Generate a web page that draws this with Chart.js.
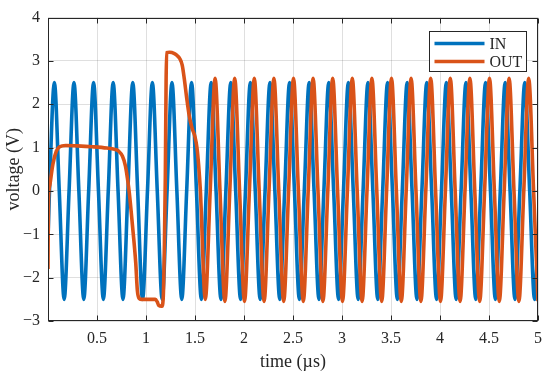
<!DOCTYPE html>
<html>
<head>
<meta charset="utf-8">
<script src="https://cdn.jsdelivr.net/npm/chart.js@4.4.1/dist/chart.umd.min.js"></script>
<style>
  body { margin: 0; background: #fff; }
</style>
</head>
<body>
<canvas id="grafico" width="550" height="373"></canvas>
<script>
// sinal de entrada (IN): cruzamentos, picos e vales
const inTime = [
  0,
  0.015, 0.065, 0.115, 0.165,
  0.215, 0.265, 0.315, 0.365,
  0.415, 0.465, 0.515, 0.565,
  0.615, 0.665, 0.715, 0.765,
  0.815, 0.865, 0.915, 0.965,
  1.015, 1.065, 1.115, 1.165,
  1.215, 1.265, 1.315, 1.365,
  1.415, 1.465, 1.515, 1.565,
  1.615, 1.665, 1.715, 1.765,
  1.815, 1.865, 1.915, 1.965,
  2.015, 2.065, 2.115, 2.165,
  2.215, 2.265, 2.315, 2.365,
  2.415, 2.465, 2.515, 2.565,
  2.615, 2.665, 2.715, 2.765,
  2.815, 2.865, 2.915, 2.965,
  3.015, 3.065, 3.115, 3.165,
  3.215, 3.265, 3.315, 3.365,
  3.415, 3.465, 3.515, 3.565,
  3.615, 3.665, 3.715, 3.765,
  3.815, 3.865, 3.915, 3.965,
  4.015, 4.065, 4.115, 4.165,
  4.215, 4.265, 4.315, 4.365,
  4.415, 4.465, 4.515, 4.565,
  4.615, 4.665, 4.715, 4.765,
  4.815, 4.865, 4.915, 4.965,
  5
];
const inVolt = [
  -1.1,
  0, 2.5, 0, -2.5,
  0, 2.5, 0, -2.5,
  0, 2.5, 0, -2.5,
  0, 2.5, 0, -2.5,
  0, 2.5, 0, -2.5,
  0, 2.5, 0, -2.5,
  0, 2.5, 0, -2.5,
  0, 2.5, 0, -2.5,
  0, 2.5, 0, -2.5,
  0, 2.5, 0, -2.5,
  0, 2.5, 0, -2.5,
  0, 2.5, 0, -2.5,
  0, 2.5, 0, -2.5,
  0, 2.5, 0, -2.5,
  0, 2.5, 0, -2.5,
  0, 2.5, 0, -2.5,
  0, 2.5, 0, -2.5,
  0, 2.5, 0, -2.5,
  0, 2.5, 0, -2.5,
  0, 2.5, 0, -2.5,
  0, 2.5, 0, -2.5,
  0, 2.5, 0, -2.5,
  0, 2.5, 0, -2.5,
  0, 2.5, 0, -2.5,
  0, 2.5, 0, -2.5,
  -1.1
];

// sinal de saida (OUT): transitorio e depois segue a entrada com atraso
const outTime = [
  0, 0.004, 0.01, 0.02, 0.05, 0.085, 0.12, 0.18, 0.3, 0.45, 0.6,
  0.68, 0.72, 0.76, 0.79, 0.81, 0.83, 0.86, 0.895, 0.912, 0.93, 0.95,
  1.095, 1.115, 1.13, 1.16, 1.175, 1.188, 1.197, 1.205, 1.21,
  1.24, 1.29, 1.32, 1.345, 1.37, 1.39, 1.415, 1.44, 1.47, 1.5,
  1.52, 1.537, 1.555, 1.605,
  1.655, 1.705, 1.755, 1.805,
  1.855, 1.905, 1.955, 2.005,
  2.055, 2.105, 2.155, 2.205,
  2.255, 2.305, 2.355, 2.405,
  2.455, 2.505, 2.555, 2.605,
  2.655, 2.705, 2.755, 2.805,
  2.855, 2.905, 2.955, 3.005,
  3.055, 3.105, 3.155, 3.205,
  3.255, 3.305, 3.355, 3.405,
  3.455, 3.505, 3.555, 3.605,
  3.655, 3.705, 3.755, 3.805,
  3.855, 3.905, 3.955, 4.005,
  4.055, 4.105, 4.155, 4.205,
  4.255, 4.305, 4.355, 4.405,
  4.455, 4.505, 4.555, 4.605,
  4.655, 4.705, 4.755, 4.805,
  4.855, 4.905, 4.955, 5
];
const outVolt = [
  -1.8, -0.4, 0, 0.15, 0.62, 0.92, 1.02, 1.05, 1.04, 1.02, 0.99,
  0.96, 0.92, 0.8, 0.58, 0.3, -0.05, -0.75, -1.65, -2.3, -2.48, -2.5,
  -2.5, -2.56, -2.64, -2.66, -2.5, -1.2, 0.3, 2.5, 3.19,
  3.2, 3.17, 3.12, 3.05, 2.9, 2.6, 2.15, 1.75, 1.45, 1.25,
  1.0, 0.6, 0, -2.5,
  0, 2.6, 0, -2.55,
  0, 2.6, 0, -2.55,
  0, 2.6, 0, -2.55,
  0, 2.6, 0, -2.55,
  0, 2.6, 0, -2.55,
  0, 2.6, 0, -2.55,
  0, 2.6, 0, -2.55,
  0, 2.6, 0, -2.55,
  0, 2.6, 0, -2.55,
  0, 2.6, 0, -2.55,
  0, 2.6, 0, -2.55,
  0, 2.6, 0, -2.55,
  0, 2.6, 0, -2.55,
  0, 2.6, 0, -2.55,
  0, 2.6, 0, -2.55,
  0, 2.6, 0, -2.55,
  0, 2.6, 0, -2.54
];

const xTicks = [0.5, 1, 1.5, 2, 2.5, 3, 3.5, 4, 4.5, 5];
const yTicks = [-3, -2, -1, 0, 1, 2, 3, 4];

const corTexto = "#262626";
const fonte = "'Liberation Serif', 'Times New Roman', serif";

// caixa do eixo e tracinhos para dentro, como no matlab
const moldura = {
  id: "moldura",
  afterDatasetsDraw(chart) {
    const { ctx, chartArea: a, scales } = chart;
    const l = Math.round(a.left) + 0.5, r = Math.round(a.right) - 0.5;
    const t = Math.round(a.top) + 0.5, b = Math.round(a.bottom) - 0.5;
    ctx.save();
    ctx.strokeStyle = corTexto;
    ctx.lineWidth = 1;
    ctx.beginPath();
    xTicks.forEach(v => {
      const px = Math.round(scales.x.getPixelForValue(v)) + 0.5;
      ctx.moveTo(px, b); ctx.lineTo(px, b - 5);
      ctx.moveTo(px, t); ctx.lineTo(px, t + 5);
    });
    yTicks.forEach(v => {
      const py = Math.round(scales.y.getPixelForValue(v)) + 0.5;
      ctx.moveTo(l, py); ctx.lineTo(l + 5, py);
      ctx.moveTo(r, py); ctx.lineTo(r - 5, py);
    });
    ctx.stroke();
    ctx.strokeRect(l, t, r - l, b - t);
    ctx.restore();
  }
};

// legenda com caixa no canto superior direito
const legenda = {
  id: "legenda",
  afterDraw(chart) {
    const { ctx, chartArea: a } = chart;
    const w = 97, h = 40;
    const x0 = Math.round(a.right) - 12 - w + 0.5;
    const y0 = Math.round(a.top) + 13 + 0.5;
    ctx.save();
    ctx.fillStyle = "#fff";
    ctx.fillRect(x0, y0, w, h);
    ctx.strokeStyle = corTexto;
    ctx.lineWidth = 1;
    ctx.strokeRect(x0, y0, w, h);
    ctx.font = "16px " + fonte;
    ctx.textBaseline = "middle";
    chart.data.datasets.forEach((ds, i) => {
      const y = y0 + 12 + i * 18;
      ctx.strokeStyle = ds.borderColor;
      ctx.lineWidth = 3.5;
      ctx.beginPath();
      ctx.moveTo(x0 + 5, y);
      ctx.lineTo(x0 + 55, y);
      ctx.stroke();
      ctx.fillStyle = corTexto;
      ctx.fillText(ds.label, x0 + 60, y + 1);
    });
    ctx.restore();
  }
};

function pontos(ts, vs) {
  return ts.map((t, i) => ({ x: t, y: vs[i] }));
}

const ctx = document.getElementById("grafico").getContext("2d");
new Chart(ctx, {
  type: "line",
  data: {
    datasets: [{
      label: "IN",
      data: pontos(inTime, inVolt),
      borderColor: "#0072BD",
      borderWidth: 3.6,
      pointRadius: 0,
      cubicInterpolationMode: "monotone",
      order: 2
    }, {
      label: "OUT",
      data: pontos(outTime, outVolt),
      borderColor: "#D95319",
      borderWidth: 3.6,
      pointRadius: 0,
      cubicInterpolationMode: "monotone",
      order: 1
    }]
  },
  options: {
    responsive: false,
    animation: false,
    devicePixelRatio: 1,
    layout: { padding: { top: 10, right: 8, left: 0, bottom: 0 } },
    plugins: {
      legend: { display: false },
      tooltip: { enabled: false }
    },
    scales: {
      x: {
        type: "linear",
        min: 0,
        max: 5,
        afterBuildTicks: s => { s.ticks = xTicks.map(v => ({ value: v })); },
        afterFit: s => { s.height = 52; },
        grid: { color: "rgba(38,38,38,0.15)", drawTicks: false },
        border: { display: false },
        ticks: {
          padding: 8,
          maxRotation: 0,
          color: corTexto,
          font: { family: fonte, size: 16 },
          callback: v => String(v)
        },
        title: {
          display: true,
          text: "time (µs)",
          color: corTexto,
          font: { family: fonte, size: 18 },
          padding: { top: 0, bottom: 0 }
        }
      },
      y: {
        type: "linear",
        min: -3,
        max: 4,
        afterBuildTicks: s => { s.ticks = yTicks.map(v => ({ value: v })); },
        afterFit: s => { s.width = 48; },
        grid: { color: "rgba(38,38,38,0.15)", drawTicks: false },
        border: { display: false },
        ticks: {
          padding: 8,
          color: corTexto,
          font: { family: fonte, size: 16 },
          callback: v => (v < 0 ? "\u2212" + Math.abs(v) : String(v))
        },
        title: {
          display: true,
          text: "voltage (V)",
          color: corTexto,
          font: { family: fonte, size: 18 },
          padding: { top: 3, bottom: 0 }
        }
      }
    }
  },
  plugins: [moldura, legenda]
});
</script>
</body>
</html>
